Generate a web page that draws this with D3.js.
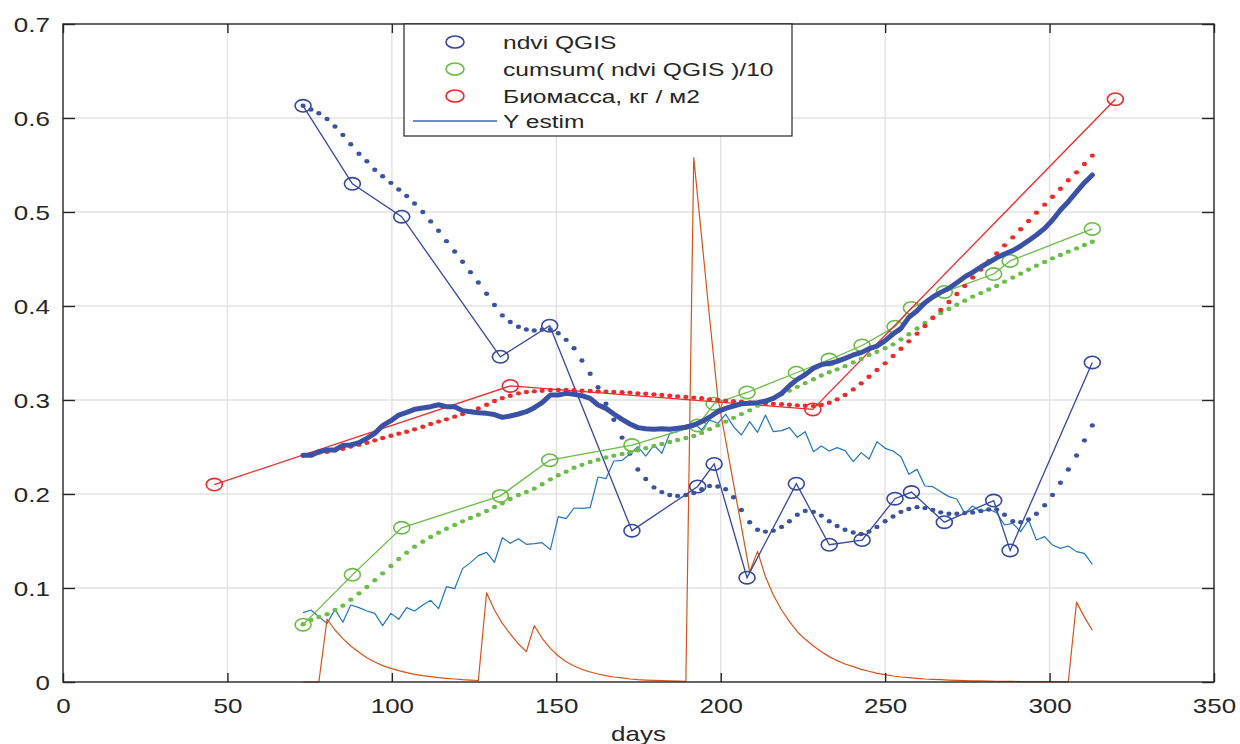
<!DOCTYPE html>
<html>
<head>
<meta charset="utf-8">
<script src="https://cdn.jsdelivr.net/npm/d3@7"></script>
<style>
  html, body { margin: 0; padding: 0; background: #ffffff; }
  svg { display: block; }
  text { font-family: "Liberation Sans", Arial, Helvetica, sans-serif; fill: #262626; }
</style>
</head>
<body>
<svg id="chart" width="1240" height="744"></svg>
<script>
// ---------- data ----------
const ndviDays = [73, 88, 103, 133, 148, 173, 193, 198, 208, 223, 233, 243, 253, 258, 268, 283, 288, 313];
const ndviValues = [0.613, 0.530, 0.495, 0.346, 0.379, 0.161, 0.208, 0.232, 0.111, 0.211, 0.146, 0.151, 0.195, 0.202, 0.170, 0.193, 0.140, 0.340];
const cumsumValues = [0.061, 0.114, 0.164, 0.198, 0.236, 0.252, 0.273, 0.296, 0.308, 0.329, 0.343, 0.358, 0.378, 0.398, 0.415, 0.434, 0.448, 0.482];
const bioDays = [46, 136, 228, 320];
const bioValues = [0.210, 0.315, 0.290, 0.620];

const smoothDays = [73.0, 75.4, 77.8, 80.3, 82.7, 85.1, 87.5, 90.0, 92.4, 94.8,
  97.2, 99.7, 102.1, 104.5, 106.9, 109.4, 111.8, 114.2, 116.6, 119.1,
  121.5, 123.9, 126.3, 128.8, 131.2, 133.6, 136.0, 138.5, 140.9, 143.3,
  145.7, 148.2, 150.6, 153.0, 155.4, 157.8, 160.3, 162.7, 165.1, 167.5,
  170.0, 172.4, 174.8, 177.2, 179.7, 182.1, 184.5, 186.9, 189.4, 191.8,
  194.2, 196.6, 199.1, 201.5, 203.9, 206.3, 208.8, 211.2, 213.6, 216.0,
  218.5, 220.9, 223.3, 225.7, 228.2, 230.6, 233.0, 235.4, 237.8, 240.3,
  242.7, 245.1, 247.5, 250.0, 252.4, 254.8, 257.2, 259.7, 262.1, 264.5,
  266.9, 269.4, 271.8, 274.2, 276.6, 279.1, 281.5, 283.9, 286.3, 288.8,
  291.2, 293.6, 296.0, 298.5, 300.9, 303.3, 305.7, 308.2, 310.6, 313.0];

const ndviSmooth = [0.613, 0.609, 0.605, 0.599, 0.591, 0.582, 0.572, 0.562, 0.554, 0.545,
  0.538, 0.531, 0.524, 0.517, 0.509, 0.500, 0.490, 0.480, 0.469, 0.458,
  0.447, 0.436, 0.425, 0.413, 0.401, 0.390, 0.383, 0.378, 0.375, 0.374,
  0.375, 0.375, 0.371, 0.364, 0.355, 0.342, 0.328, 0.3135, 0.296, 0.279,
  0.260, 0.243, 0.226, 0.216, 0.207, 0.202, 0.199, 0.198, 0.199, 0.201,
  0.205, 0.2085, 0.208, 0.205, 0.1965, 0.183, 0.170, 0.162, 0.160, 0.161,
  0.165, 0.171, 0.178, 0.182, 0.181, 0.177, 0.171, 0.166, 0.162, 0.159,
  0.1575, 0.160, 0.165, 0.171, 0.176, 0.181, 0.184, 0.186, 0.185, 0.183,
  0.1805, 0.179, 0.179, 0.1797, 0.1803, 0.1819, 0.1835, 0.1835, 0.178, 0.171,
  0.170, 0.173, 0.179, 0.188, 0.199, 0.212, 0.226, 0.241, 0.257, 0.273];

const cumsumSmooth = [0.0614, 0.0659, 0.0691, 0.0720, 0.0766, 0.0812, 0.0876, 0.0943, 0.1010, 0.1082,
  0.1156, 0.1234, 0.1309, 0.1376, 0.1440, 0.1493, 0.1543, 0.1589, 0.1631, 0.1670,
  0.1709, 0.1745, 0.1780, 0.1819, 0.1862, 0.1901, 0.1947, 0.1989, 0.2021, 0.2057,
  0.2103, 0.2156, 0.2199, 0.2238, 0.2280, 0.2310, 0.2340, 0.2365, 0.2388, 0.2408,
  0.2426, 0.2443, 0.2465, 0.2486, 0.2511, 0.2532, 0.2553, 0.2574, 0.2596, 0.2617,
  0.2650, 0.2690, 0.2730, 0.2770, 0.2810, 0.2850, 0.2890, 0.2940, 0.2980, 0.3020,
  0.3060, 0.3100, 0.3140, 0.3180, 0.3220, 0.3260, 0.3295, 0.3326, 0.3360, 0.3400,
  0.3436, 0.3479, 0.3514, 0.3550, 0.3592, 0.3645, 0.3700, 0.3760, 0.3819, 0.3879,
  0.3926, 0.3968, 0.4014, 0.4057, 0.4100, 0.4137, 0.4176, 0.4213, 0.4259, 0.4302,
  0.4344, 0.4387, 0.4429, 0.4468, 0.4507, 0.4543, 0.4578, 0.4613, 0.4649, 0.4684];

const bioSmooth = [0.2410, 0.2426, 0.2440, 0.2450, 0.2464, 0.2482, 0.2504, 0.2525, 0.2546, 0.2571,
  0.2596, 0.2620, 0.2642, 0.2663, 0.2688, 0.2716, 0.2745, 0.2770, 0.2794, 0.2823,
  0.2851, 0.2879, 0.2910, 0.2950, 0.2990, 0.3020, 0.3046, 0.3071, 0.3085, 0.3092,
  0.3099, 0.3106, 0.3106, 0.3106, 0.3103, 0.3099, 0.3096, 0.3092, 0.3089, 0.3085,
  0.3082, 0.3078, 0.3071, 0.3067, 0.3060, 0.3053, 0.3046, 0.3039, 0.3032, 0.3025,
  0.3018, 0.3007, 0.3000, 0.2993, 0.2987, 0.2981, 0.2975, 0.2969, 0.2964, 0.2959,
  0.2955, 0.2949, 0.2943, 0.2939, 0.2935, 0.2948, 0.2970, 0.3007, 0.3053, 0.3113,
  0.3177, 0.3248, 0.3319, 0.3390, 0.3468, 0.3546, 0.3624, 0.3706, 0.3787, 0.3872,
  0.3957, 0.4043, 0.4128, 0.4214, 0.4303, 0.4388, 0.4476, 0.4558, 0.4645, 0.4730,
  0.4816, 0.4904, 0.4993, 0.5078, 0.5163, 0.5248, 0.5337, 0.5422, 0.5511, 0.5600];

// thick blue estimate
const yEstim = [0.2411, 0.2411, 0.2450, 0.2468, 0.2468, 0.2518, 0.2521, 0.2546, 0.2592, 0.2645,
  0.2727, 0.2780, 0.2840, 0.2869, 0.2901, 0.2915, 0.2929, 0.2950, 0.2929, 0.2929,
  0.2887, 0.2876, 0.2865, 0.2858, 0.2845, 0.2815, 0.2830, 0.2851, 0.2876, 0.2918,
  0.2972, 0.3053, 0.3053, 0.3071, 0.3060, 0.3046, 0.3018, 0.2947, 0.2911, 0.2851,
  0.2794, 0.2745, 0.2706, 0.2695, 0.2688, 0.2695, 0.2688, 0.2699, 0.2709, 0.2734,
  0.2770, 0.2816, 0.2876, 0.2911, 0.2936, 0.2960, 0.2965, 0.2972, 0.2989, 0.3018,
  0.3070, 0.3152, 0.3220, 0.3270, 0.3337, 0.3376, 0.3390, 0.3411, 0.3443, 0.3479,
  0.3504, 0.3546, 0.3574, 0.3631, 0.3702, 0.3762, 0.3879, 0.3950, 0.4035, 0.4096,
  0.4145, 0.4188, 0.4248, 0.4309, 0.4358, 0.4415, 0.4463, 0.4512, 0.4553, 0.4589,
  0.4638, 0.4695, 0.4755, 0.4826, 0.4915, 0.5021, 0.5110, 0.5213, 0.5312, 0.5394];

// thin light-blue line
const yModel = [0.0738, 0.0766, 0.0695, 0.0624, 0.0773, 0.0635, 0.0819, 0.0791, 0.0755, 0.0730,
  0.0599, 0.0730, 0.0667, 0.0791, 0.0755, 0.0819, 0.0869, 0.0780, 0.1014, 0.0993,
  0.1206, 0.1270, 0.1344, 0.1379, 0.1273, 0.1535, 0.1475, 0.1525, 0.1465, 0.1472,
  0.1482, 0.1408, 0.1759, 0.1738, 0.1851, 0.1848, 0.1855, 0.2181, 0.2163, 0.2351,
  0.2358, 0.2426, 0.2504, 0.2404, 0.2521, 0.2433, 0.2645, 0.2663, 0.2734, 0.2752,
  0.2681, 0.2787, 0.2752, 0.2848, 0.2716, 0.2628, 0.2770, 0.2656, 0.2840, 0.2663,
  0.2674, 0.2706, 0.2603, 0.2663, 0.2450, 0.2511, 0.2457, 0.2493, 0.2461, 0.2344,
  0.2440, 0.2372, 0.2557, 0.2486, 0.2457, 0.2397, 0.2209, 0.2262, 0.2085, 0.2078,
  0.2025, 0.1972, 0.1947, 0.1794, 0.1872, 0.1812, 0.1837, 0.1800, 0.1670, 0.1688,
  0.1599, 0.1723, 0.1511, 0.1546, 0.1457, 0.1422, 0.1447, 0.1387, 0.1369, 0.1252];

// orange pulse line
const yPulse = [0, 0, 0, 0.067, 0.0553, 0.0461, 0.0383, 0.0316, 0.0259, 0.0213,
  0.0174, 0.0145, 0.0121, 0.0099, 0.0082, 0.0067, 0.0057, 0.0046, 0.0039, 0.0032,
  0.0025, 0.0021, 0.0016, 0.095, 0.0766, 0.0624, 0.0511, 0.0404, 0.0323, 0.060,
  0.0465, 0.0358, 0.0277, 0.0216, 0.0170, 0.0135, 0.0106, 0.0085, 0.0067, 0.0053,
  0.0043, 0.0032, 0.0025, 0.0021, 0.0017, 0.0014, 0.0011, 0.0009, 0.0007, 0.558,
  0.473, 0.388, 0.303, 0.257, 0.211, 0.165, 0.117, 0.139, 0.112, 0.0926,
  0.0766, 0.0642, 0.0535, 0.0454, 0.0383, 0.0323, 0.0270, 0.0227, 0.0191, 0.0163,
  0.0135, 0.0114, 0.0092, 0.0078, 0.0064, 0.0053, 0.0046, 0.0039, 0.0032, 0.0028,
  0.0025, 0.0021, 0.0018, 0.0015, 0.0013, 0.0011, 0.0009, 0.0008, 0.0007, 0.0006,
  0.0005, 0.0004, 0.0004, 0.0003, 0.0003, 0.0002, 0.0002, 0.085, 0.069, 0.055];

const xTicks = [0, 50, 100, 150, 200, 250, 300, 350];
const yTicks = [0, 0.1, 0.2, 0.3, 0.4, 0.5, 0.6, 0.7];
const legendLabels = ["ndvi QGIS", "cumsum( ndvi QGIS )/10", "Биомасса, кг / м2", "Y estim"];
const xLabel = "days";

// ---------- styles ----------
const C = {
  ndvi: "#3447a2", thick: "#3a51a5", green: "#6abd45", red: "#ee2b2b",
  light: "#1f77bd", orange: "#d95319", axis: "#262626", grid: "#e2e2e2", legLine: "#4562b3"
};
const SX = 1.3; // horizontal stretch of text seen in the reference

const svg = d3.select("#chart");
svg.append("rect").attr("width", 1240).attr("height", 744).attr("fill", "#ffffff");

const x = d3.scaleLinear().domain([0, 350]).range([63, 1214]);
const y = d3.scaleLinear().domain([0, 0.7]).range([682, 24]);

// grid
const grid = svg.append("g");
grid.selectAll(".gx").data(xTicks.slice(1, -1)).join("line")
  .attr("x1", d => x(d)).attr("x2", d => x(d)).attr("y1", y(0)).attr("y2", y(0.7))
  .attr("stroke", C.grid).attr("stroke-width", 1.4);
grid.selectAll(".gy").data(yTicks.slice(1, -1)).join("line")
  .attr("x1", x(0)).attr("x2", x(350)).attr("y1", d => y(d)).attr("y2", d => y(d))
  .attr("stroke", C.grid).attr("stroke-width", 1.4);

const line = d3.line().x(d => x(d[0])).y(d => y(d[1]));
const zip = (xs, ys) => xs.map((v, i) => [v, ys[i]]);

const plot = svg.append("g");
// light-blue thin line
plot.append("path").attr("d", line(zip(smoothDays, yModel)))
  .attr("fill", "none").attr("stroke", C.light).attr("stroke-width", 1.2).attr("stroke-linejoin", "round");
// orange pulse line
plot.append("path").attr("d", line(zip(smoothDays, yPulse)))
  .attr("fill", "none").attr("stroke", C.orange).attr("stroke-width", 1.2).attr("stroke-linejoin", "round");

function markerSeries(xs, ys, color) {
  plot.append("path").attr("d", line(zip(xs, ys)))
    .attr("fill", "none").attr("stroke", color).attr("stroke-width", 1.3);
  plot.append("g").selectAll("ellipse").data(zip(xs, ys)).join("ellipse")
    .attr("cx", d => x(d[0])).attr("cy", d => y(d[1]))
    .attr("rx", 8).attr("ry", 6.2)
    .attr("fill", "none").attr("stroke", color).attr("stroke-width", 1.6);
}
markerSeries(ndviDays, ndviValues, C.ndvi);
markerSeries(ndviDays, cumsumValues, C.green);
markerSeries(bioDays, bioValues, C.red);

function dotSeries(ys, color) {
  plot.append("g").selectAll("ellipse").data(zip(smoothDays, ys)).join("ellipse")
    .attr("cx", d => x(d[0])).attr("cy", d => y(d[1]))
    .attr("rx", 2.6).attr("ry", 2.2).attr("fill", color);
}
dotSeries(ndviSmooth, C.thick);
dotSeries(cumsumSmooth, C.green);
dotSeries(bioSmooth, C.red);

// thick estimate line
plot.append("path").attr("d", line(zip(smoothDays, yEstim)))
  .attr("fill", "none").attr("stroke", C.thick).attr("stroke-width", 5)
  .attr("stroke-linejoin", "round").attr("stroke-linecap", "round");

// ---------- axes ----------
function styleAxis(g) {
  g.select(".domain").remove();
  g.selectAll(".tick line").attr("stroke", C.axis).attr("stroke-width", 1.4);
}
const gB = svg.append("g").attr("transform", `translate(0,${y(0)})`)
  .call(d3.axisBottom(x).tickValues(xTicks).tickSizeInner(-9).tickSizeOuter(0).tickFormat(d3.format("d")));
styleAxis(gB);
gB.selectAll(".tick text").attr("y", 31).attr("dy", null)
  .attr("font-size", 20).attr("fill", C.axis).attr("transform", `scale(${SX},1)`);

const gT = svg.append("g").attr("transform", `translate(0,${y(0.7)})`)
  .call(d3.axisTop(x).tickValues(xTicks).tickSizeInner(-9).tickSizeOuter(0).tickFormat(""));
styleAxis(gT);

const gL = svg.append("g").attr("transform", `translate(${x(0)},0)`)
  .call(d3.axisLeft(y).tickValues(yTicks).tickSizeInner(-12).tickSizeOuter(0)
    .tickFormat(d => d === 0 ? "0" : d3.format(".1f")(d)));
styleAxis(gL);
gL.selectAll(".tick text").attr("x", -13 / SX).attr("dy", "0.35em")
  .attr("font-size", 20).attr("fill", C.axis).attr("text-anchor", "end")
  .attr("transform", `scale(${SX},1)`);

const gR = svg.append("g").attr("transform", `translate(${x(350)},0)`)
  .call(d3.axisRight(y).tickValues(yTicks).tickSizeInner(-12).tickSizeOuter(0).tickFormat(""));
styleAxis(gR);

// frame
svg.append("rect").attr("x", x(0)).attr("y", y(0.7))
  .attr("width", x(350) - x(0)).attr("height", y(0) - y(0.7))
  .attr("fill", "none").attr("stroke", C.axis).attr("stroke-width", 1.4);

// x label
svg.append("text").attr("transform", `translate(${(x(0) + x(350)) / 2},741) scale(${SX},1)`)
  .attr("text-anchor", "middle").attr("font-size", 20).attr("fill", C.axis).text(xLabel);

// ---------- legend ----------
const leg = svg.append("g");
leg.append("rect").attr("x", 404).attr("y", 24).attr("width", 388).attr("height", 112)
  .attr("fill", "#ffffff").attr("stroke", C.axis).attr("stroke-width", 1.2);
const rowsY = [42, 69, 96, 121];
const legColors = [C.ndvi, C.green, C.red];
legColors.forEach((c, i) => {
  leg.append("ellipse").attr("cx", 455).attr("cy", rowsY[i]).attr("rx", 9).attr("ry", 6)
    .attr("fill", "none").attr("stroke", c).attr("stroke-width", 1.6);
});
leg.append("line").attr("x1", 413).attr("x2", 497).attr("y1", rowsY[3]).attr("y2", rowsY[3])
  .attr("stroke", C.legLine).attr("stroke-width", 1.4);
legendLabels.forEach((t, i) => {
  leg.append("text").attr("transform", `translate(503,${rowsY[i] + 6.5}) scale(1.33,1)`)
    .attr("font-size", 18.5).attr("fill", C.axis).text(t);
});
</script>
</body>
</html>
